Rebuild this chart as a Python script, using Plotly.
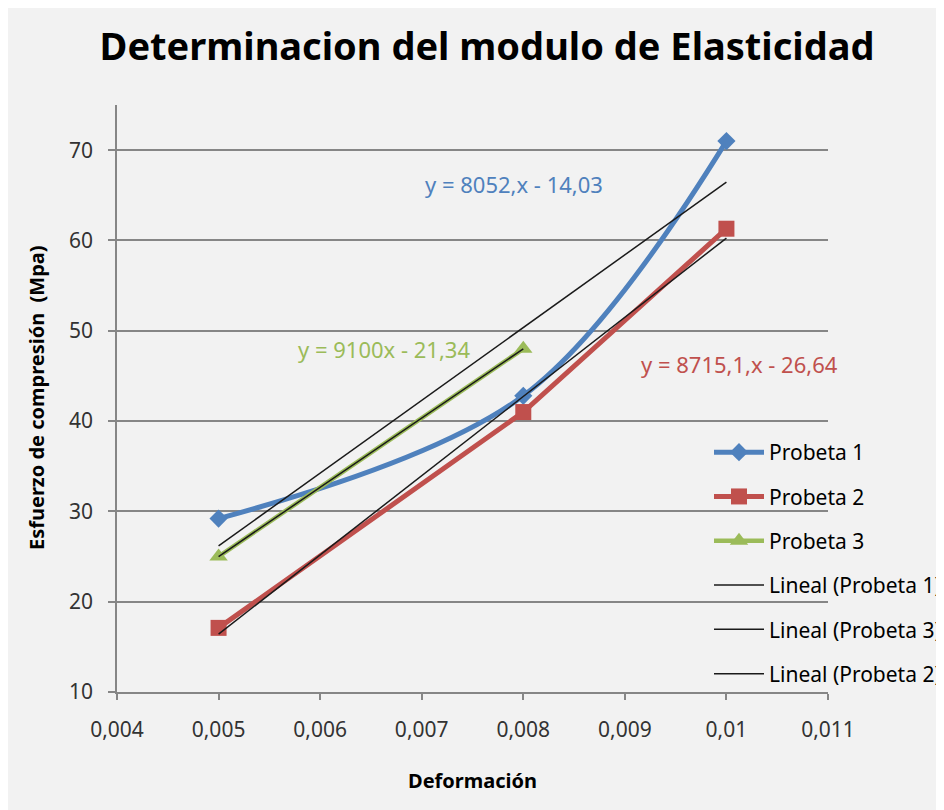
import numpy as np
import plotly.graph_objects as go

# ---- data ----
deformacion = [0.005, 0.008, 0.01]
probeta1 = [29.2, 42.8, 71.0]
probeta2 = [17.1, 41.0, 61.3]
deformacion3 = [0.005, 0.008]
probeta3 = [25.0, 48.0]

x_tickvals = [0.004, 0.005, 0.006, 0.007, 0.008, 0.009, 0.010, 0.011]
x_ticktext = ["0,004", "0,005", "0,006", "0,007", "0,008", "0,009", "0,01", "0,011"]
y_tickvals = [10, 20, 30, 40, 50, 60, 70]

eq1 = "y = 8052,x - 14,03"
eq2 = "y = 8715,1,x - 26,64"
eq3 = "y = 9100x - 21,34"

BLUE = "#4F81BD"
RED = "#C0504D"
GREEN = "#9BBB59"
FONT = "Noto Sans"

def trend(xs, ys):
    m, b = np.polyfit(xs, ys, 1)
    xe = [min(xs), max(xs)]
    return xe, [m * v + b for v in xe]

fig = go.Figure()

fig.add_trace(go.Scatter(x=deformacion, y=probeta1, name="Probeta 1", mode="lines+markers",
                         line=dict(color=BLUE, width=5, shape="spline", smoothing=1.0),
                         marker=dict(symbol="diamond", size=14, color=BLUE),
                         legendgroup="a"))
fig.add_trace(go.Scatter(x=deformacion, y=probeta2, name="Probeta 2", mode="lines+markers",
                         line=dict(color=RED, width=5),
                         marker=dict(symbol="square", size=16, color=RED),
                         legendgroup="b"))
fig.add_trace(go.Scatter(x=deformacion3, y=probeta3, name="Probeta 3", mode="lines+markers",
                         line=dict(color=GREEN, width=4.5),
                         marker=dict(symbol="triangle-up", size=16, color=GREEN),
                         legendgroup="c"))

for nm, xs, ys, g in [("Lineal (Probeta 1)", deformacion, probeta1, "d"),
                      ("Lineal (Probeta 3)", deformacion3, probeta3, "e"),
                      ("Lineal (Probeta 2)", deformacion, probeta2, "f")]:
    tx, ty = trend(xs, ys)
    fig.add_trace(go.Scatter(x=tx, y=ty, name=nm, mode="lines",
                             line=dict(color="#1a1a1a", width=1.5), legendgroup=g))

# positions expressed in screen pixels (page has an 8px body margin)
OFF = 8
W, H = 944, 810
PL, PR, PT, PB = 117 - OFF, 828 - OFF, 105 - OFF, 692 - OFF
L, R, T, B = PL, W - PR, PT, H - PB
pw, ph = PR - PL, PB - PT

def px(xs):
    return (xs - OFF - PL) / pw

def py(ys):
    return (PB - (ys - OFF)) / ph

fig.update_layout(
    width=W, height=H,
    margin=dict(l=L, r=R, t=T, b=B, autoexpand=False),
    paper_bgcolor="#F2F2F2", plot_bgcolor="#F2F2F2",
    font=dict(family=FONT, color="#262626"),
    title=dict(text="<b>Determinacion del modulo de Elasticidad</b>",
               font=dict(family=FONT, size=38, color="#000000"),
               x=px(487), xanchor="center", y=1 - (47 - OFF) / H, yanchor="middle", xref="paper"),
    showlegend=True,
    legend=dict(x=px(709), xanchor="left", y=py(432), yanchor="top",
                bgcolor="rgba(0,0,0,0)", font=dict(family=FONT, size=21, color="#000000"),
                traceorder="grouped", tracegroupgap=14, itemwidth=50),
    xaxis=dict(range=[0.004, 0.011], tickvals=x_tickvals, ticktext=x_ticktext,
               showgrid=False, zeroline=False, showline=True, linecolor="#868686", linewidth=1.5,
               ticks="outside", ticklen=6, tickcolor="#868686", tickwidth=1.5,
               ticklabelstandoff=12,
               tickfont=dict(family=FONT, size=21, color="#333333")),
    yaxis=dict(range=[10, 75], tickvals=y_tickvals,
               showgrid=True, gridcolor="#868686", gridwidth=1.5, zeroline=False,
               showline=True, linecolor="#868686", linewidth=1.5,
               ticks="outside", ticklen=7, tickcolor="#868686", tickwidth=1.5,
               ticklabelstandoff=11,
               tickfont=dict(family=FONT, size=21, color="#333333")),
    annotations=[
        dict(text="<b>Deformación</b>", xref="paper", yref="paper", x=px(472), y=py(780),
             xanchor="center", yanchor="middle", showarrow=False,
             font=dict(family=FONT, size=20, color="#000000")),
        dict(text="<b>Esfuerzo de compresión  (Mpa)</b>", xref="paper", yref="paper",
             x=px(36), y=py(398), xanchor="center", yanchor="middle", textangle=-90,
             showarrow=False, font=dict(family=FONT, size=20, color="#000000")),
        dict(text=eq1, xref="paper", yref="paper", x=px(514), y=py(184),
             xanchor="center", yanchor="middle", showarrow=False,
             font=dict(family=FONT, size=22, color=BLUE)),
        dict(text=eq3, xref="paper", yref="paper", x=px(384), y=py(349),
             xanchor="center", yanchor="middle", showarrow=False,
             font=dict(family=FONT, size=22, color=GREEN)),
        dict(text=eq2, xref="paper", yref="paper", x=px(739), y=py(364),
             xanchor="center", yanchor="middle", showarrow=False,
             font=dict(family=FONT, size=22, color=RED)),
    ],
)

fig.write_html("out.html")
